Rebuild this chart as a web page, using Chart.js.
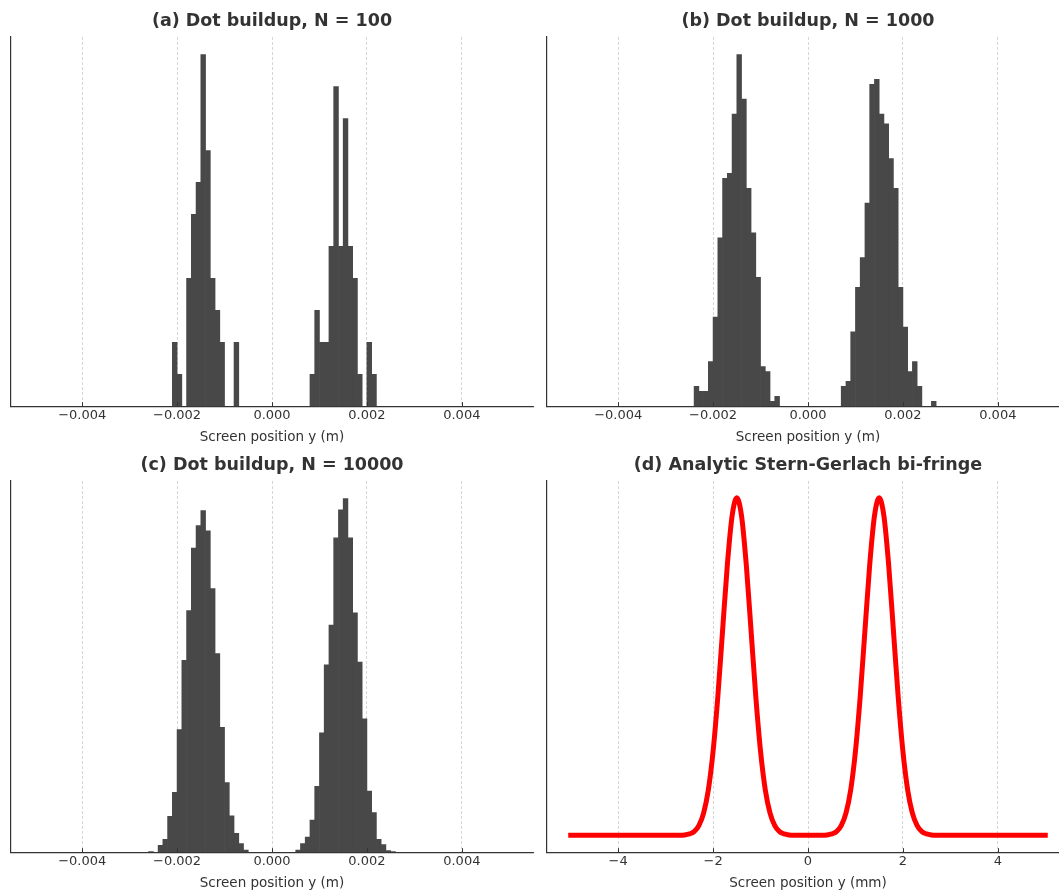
<!DOCTYPE html>
<html><head><meta charset="utf-8">
<script src="https://cdn.jsdelivr.net/npm/chart.js@4.4.1/dist/chart.umd.min.js"></script>
<style>
html,body{margin:0;padding:0;width:1059px;height:892px;overflow:hidden;background:#fff;}
.p{position:absolute;}
canvas{display:block;}
</style></head><body>
<div class="p" style="left:0;top:0"><canvas id="ca" width="540" height="446"></canvas></div>
<div class="p" style="left:536px;top:0"><canvas id="cb" width="540" height="446"></canvas></div>
<div class="p" style="left:0;top:446px"><canvas id="cc" width="540" height="446"></canvas></div>
<div class="p" style="left:536px;top:446px"><canvas id="cd" width="540" height="446"></canvas></div>
<script>
// ---------- data ----------
const BIN_START = -0.005;   // histogram range start (m)
const BIN_WIDTH = 0.0001;   // 100 bins over [-0.005, 0.005]

const countsN100 = [
  0,0,0,0,0,0,0,0,0,0,
  0,0,0,0,0,0,0,0,0,0,
  0,0,0,0,0,0,0,0,0,2,
  1,0,4,6,7,11,8,4,3,2,
  0,0,2,0,0,0,0,0,0,0,
  0,0,0,0,0,0,0,0,1,3,
  2,2,5,10,5,9,5,4,1,0,
  2,1,0,0,0,0,0,0,0,0,
  0,0,0,0,0,0,0,0,0,0,
  0,0,0,0,0,0,0,0,0,0
];
const countsN1000 = [
  0,0,0,0,0,0,0,0,0,0,
  0,0,0,0,0,0,0,0,0,0,
  0,0,0,0,0,0,4,3,3,9,
  18,34,46,47,59,71,62,44,35,26,
  8,7,1,2,0,0,0,0,0,0,
  0,0,0,0,0,0,0,4,5,15,
  24,30,41,65,66,59,57,50,44,24,
  16,7,9,4,0,0,1,0,0,0,
  0,0,0,0,0,0,0,0,0,0,
  0,0,0,0,0,0,0,0,0,0
];
const countsN10000 = [
  0,0,0,0,0,0,0,0,0,0,
  0,0,0,0,0,0,0,0,0,0,
  0,0,0,0,1,0,13,24,67,112,
  229,358,451,568,610,638,600,492,371,233,
  130,68,35,16,4,0,0,0,0,0,
  0,0,0,0,0,4,16,28,60,123,
  223,350,424,587,639,660,587,447,355,249,
  114,74,24,14,3,1,0,0,0,0,
  0,0,0,0,0,0,0,0,0,0,
  0,0,0,0,0,0,0,0,0,0
];

// analytic curve (y in mm, relative intensity)
const curveX = [-5,-4,-3,-2.7,-2.6,-2.5,-2.4,-2.3,-2.2,-2.1,-2.0,-1.9,-1.8,-1.7,-1.6,-1.5,-1.4,-1.3,-1.2,-1.1,-1.0,-0.9,-0.8,-0.7,-0.6,-0.5,-0.4,-0.3,0,
                0.3,0.4,0.5,0.6,0.7,0.8,0.9,1.0,1.1,1.2,1.3,1.4,1.5,1.6,1.7,1.8,1.9,2.0,2.1,2.2,2.3,2.4,2.5,2.6,2.7,3,4,5];
const curveY = [0,0,0,0,0.001,0.004,0.011,0.029,0.066,0.135,0.249,0.411,0.607,0.801,0.946,1.0,0.946,0.801,0.607,0.411,0.249,0.135,0.066,0.029,0.011,0.004,0.001,0,0,
                0,0.001,0.004,0.011,0.029,0.066,0.135,0.249,0.411,0.607,0.801,0.946,1.0,0.946,0.801,0.607,0.411,0.249,0.135,0.066,0.029,0.011,0.004,0.001,0,0,0,0];

const tickValsM = [-0.004,-0.002,0,0.002,0.004];
const tickLabelsM = ['\u22120.004','\u22120.002','0.000','0.002','0.004'];
const tickValsMM = [-4,-2,0,2,4];
const tickLabelsMM = ['\u22124','\u22122','0','2','4'];

const titles = ['(a) Dot buildup, N = 100','(b) Dot buildup, N = 1000','(c) Dot buildup, N = 10000','(d) Analytic Stern-Gerlach bi-fringe'];
const xLabelM = 'Screen position y (m)';
const xLabelMM = 'Screen position y (mm)';

// ---------- style ----------
const FONT = 'DejaVu Sans';
const TXT = '#333333';
const BAR = '#484848';
const GRID = 'rgba(160,160,160,0.55)';
const SPINE = '#333333';

const inTicks = {
  id: 'inTicks',
  afterDraw(chart) {
    const s = chart.scales.x, ctx = chart.ctx, b = chart.chartArea.bottom;
    ctx.save();
    ctx.strokeStyle = SPINE; ctx.lineWidth = 1;
    s.ticks.forEach(t => {
      const px = Math.round(s.getPixelForValue(t.value)) + 0.5;
      ctx.beginPath(); ctx.moveTo(px, b); ctx.lineTo(px, b - 4); ctx.stroke();
    });
    ctx.restore();
  }
};

function baseOptions(title, xmin, xmax, tv, tl, xlabel, ymin, ymax, topPad) {
  return {
    animation: false, responsive: false, devicePixelRatio: 1,
    layout: { padding: { left: 11, right: 7, top: 0, bottom: 0 } },
    plugins: {
      legend: { display: false }, tooltip: { enabled: false },
      title: { display: true, text: title, color: TXT,
        font: { family: FONT, size: 17.5, weight: 'bold' },
        padding: { top: topPad, bottom: 5 } }
    },
    scales: {
      x: {
        type: 'linear', min: xmin, max: xmax, offset: false, z: 1,
        afterBuildTicks: s => { s.ticks = tv.map(v => ({ value: v })); },
        ticks: { callback: (v, i) => tl[i], color: TXT, font: { family: FONT, size: 13 },
                 padding: 2, maxRotation: 0, autoSkip: false },
        grid: { color: GRID, lineWidth: 0.8, drawTicks: false, offset: false },
        border: { display: true, color: SPINE, width: 1.2, dash: [3, 2] },
        title: { display: true, text: xlabel, color: TXT, font: { family: FONT, size: 13.5 },
                 padding: { top: 4, bottom: 0 } }
      },
      y: {
        min: ymin, max: ymax,
        ticks: { display: false },
        grid: { display: false, drawTicks: false },
        border: { display: true, color: SPINE, width: 1.2 }
      }
    }
  };
}

function hist(id, title, counts, topPad) {
  const pts = counts.map((c, i) => ({ x: BIN_START + (i + 0.5) * BIN_WIDTH, y: c }));
  const opts = baseOptions(title, -0.0055, 0.0055, tickValsM, tickLabelsM, xLabelM,
                           0, Math.max(...counts) * 1.05, topPad);
  new Chart(document.getElementById(id), {
    type: 'bar',
    data: { datasets: [{ data: pts, borderWidth: 0, barPercentage: 1, categoryPercentage: 1,
                         backgroundColor: c => (c.raw && c.raw.y > 0) ? BAR : 'rgba(0,0,0,0)' }] },
    options: opts,
    plugins: [inTicks]
  });
}

hist('ca', titles[0], countsN100, 11);
hist('cb', titles[1], countsN1000, 11);
hist('cc', titles[2], countsN10000, 9);

new Chart(document.getElementById('cd'), {
  type: 'line',
  data: { datasets: [{ data: curveX.map((x, i) => ({ x, y: curveY[i] })),
                       borderColor: '#ff0000', borderWidth: 5, pointRadius: 0,
                       cubicInterpolationMode: 'monotone', borderCapStyle: 'square',
                       borderJoinStyle: 'round', fill: false }] },
  options: baseOptions(titles[3], -5.5, 5.5, tickValsMM, tickLabelsMM, xLabelMM, -0.05, 1.05, 9),
  plugins: [inTicks]
});
</script>
</body></html>
